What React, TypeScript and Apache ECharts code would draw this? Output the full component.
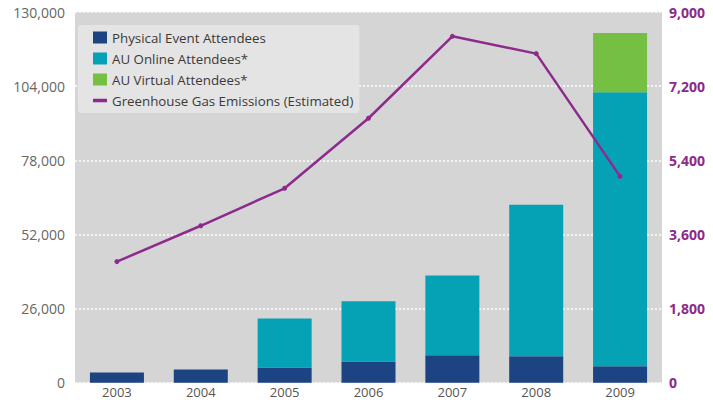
import React, { useEffect, useRef } from "react";
import * as echarts from "echarts";

const years = ["2003", "2004", "2005", "2006", "2007", "2008", "2009"];
const physical = [3600, 4650, 5350, 7450, 9650, 9300, 5800];
const online = [0, 0, 17150, 21100, 27950, 53100, 96100];
const virtualAtt = [0, 0, 0, 0, 0, 0, 20700];
const emissions = [2940, 3810, 4720, 6420, 8410, 7990, 5010];

const leftTicks = { min: 0, max: 130000, interval: 26000 };
const rightTicks = { min: 0, max: 9000, interval: 1800 };

const names = [
  "Physical Event Attendees",
  "AU Online Attendees*",
  "AU Virtual Attendees*",
  "Greenhouse Gas Emissions (Estimated)",
];

export default function App() {
  const ref = useRef<HTMLDivElement>(null);
  useEffect(() => {
    if (!ref.current) return;
    const chart = echarts.init(ref.current, null, { renderer: "svg" });
    const font = "'Open Sans', sans-serif";
    chart.setOption({
      animation: false,
      backgroundColor: "#ffffff",
      textStyle: { fontFamily: font },
      grid: {
        left: 75,
        right: 51,
        top: 12,
        bottom: 17.3,
        show: true,
        backgroundColor: "#d5d5d5",
        borderWidth: 0,
      },
      legend: {
        orient: "vertical",
        left: 78,
        top: 25,
        backgroundColor: "#e4e4e4",
        borderRadius: 3,
        padding: [6, 6, 6, 15],
        itemWidth: 14,
        itemHeight: 12,
        itemGap: 8,
        textStyle: { color: "#3a3a3a", fontSize: 13.3, fontFamily: font },
        data: [
          { name: names[0], icon: "rect" },
          { name: names[1], icon: "rect" },
          { name: names[2], icon: "rect" },
          { name: names[3], icon: "path://M0,0h20v5h-20z" },
        ],
      },
      xAxis: {
        type: "category",
        data: years,
        axisLine: { show: false },
        axisTick: { show: false },
        axisLabel: {
          color: "#555",
          fontSize: 13,
          lineHeight: 13,
          margin: 3,
          fontFamily: font,
        },
      },
      yAxis: [
        {
          type: "value",
          ...leftTicks,
          position: "left",
          axisLine: { show: false },
          axisTick: { show: false },
          axisLabel: {
            color: "#666",
            fontSize: 14,
            margin: 10,
            fontFamily: font,
            formatter: (v: number) => v.toLocaleString("en-US"),
          },
          splitLine: {
            show: true,
            lineStyle: { color: "#ffffff", type: [2, 2], width: 1.5 },
          },
        },
        {
          type: "value",
          ...rightTicks,
          position: "right",
          axisLine: { show: false },
          axisTick: { show: false },
          axisLabel: {
            color: "#8b2a8b",
            fontSize: 14,
            fontWeight: "bold",
            margin: 7,
            fontFamily: font,
            formatter: (v: number) => v.toLocaleString("en-US"),
          },
          splitLine: { show: false },
        },
      ],
      series: [
        {
          name: names[0],
          type: "bar",
          stack: "att",
          barWidth: 54,
          data: physical,
          itemStyle: { color: "#1c4382" },
        },
        {
          name: names[1],
          type: "bar",
          stack: "att",
          barWidth: 54,
          data: online,
          itemStyle: { color: "#05a2b5" },
        },
        {
          name: names[2],
          type: "bar",
          stack: "att",
          barWidth: 54,
          data: virtualAtt,
          itemStyle: { color: "#75bf42" },
        },
        {
          name: names[3],
          type: "line",
          yAxisIndex: 1,
          data: emissions,
          symbol: "circle",
          symbolSize: 5,
          lineStyle: { color: "#8d2a8d", width: 2.5 },
          itemStyle: { color: "#8d2a8d" },
          z: 5,
        },
      ],
    });
    return () => chart.dispose();
  }, []);
  return (
    <div
      ref={ref}
      style={{ position: "fixed", left: 0, top: 0, width: 713, height: 400 }}
    />
  );
}
